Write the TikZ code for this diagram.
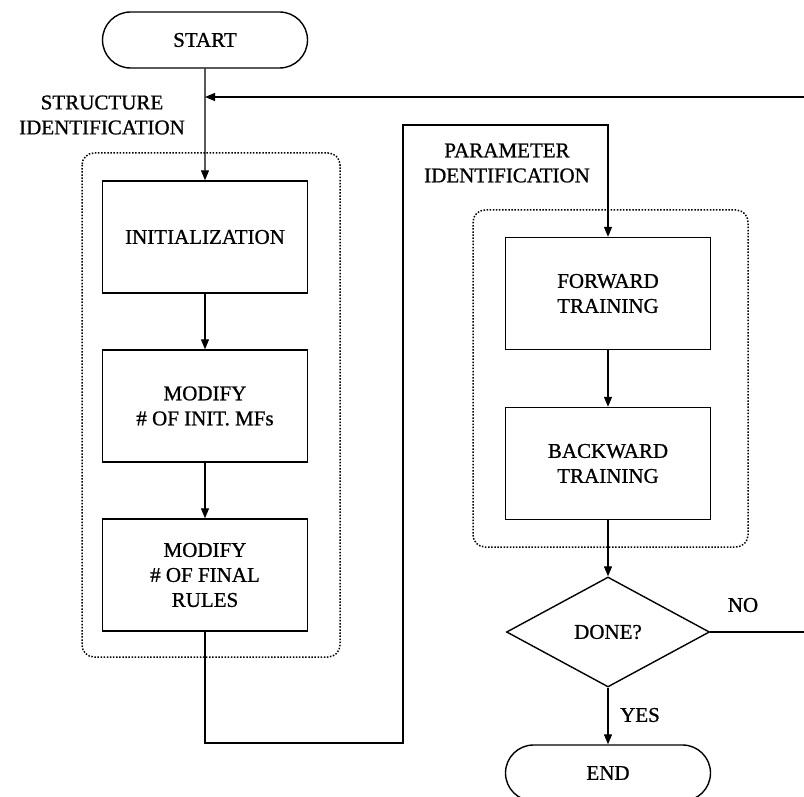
\documentclass[tikz,border=0pt]{standalone}
\usepackage{fontspec}
\setmainfont{Liberation Serif}
\newfontfamily\chartfont{Liberation Serif}[FakeBold=0.9]
\usetikzlibrary{shapes.misc,shapes.geometric,arrows.meta}
\begin{document}
\begin{tikzpicture}[x=1pt,y=-1pt,
  txt/.style={font=\chartfont\fontsize{21}{25}\selectfont, align=center, inner sep=0pt},
  stepbox/.style={txt, draw, line width=1.4pt, minimum width=205pt, minimum height=112pt},
  terminal/.style={txt, draw, line width=1.4pt, rounded rectangle, minimum width=205pt, minimum height=56pt},
  decision/.style={txt, draw, line width=1.4pt, diamond, aspect=1.85, minimum width=203pt, minimum height=110pt},
  groupbox/.style={draw, line width=1.5pt, dash pattern=on 1.5pt off 1.6pt, rounded corners=12pt},
  conn/.style={draw, line width=1.2pt},
  arr/.style={conn, -{Triangle[length=10pt,width=8pt]}}]
\useasboundingbox (0,0) rectangle (804,797);
\clip (0,0) rectangle (804,797);

% groups
\draw[groupbox] (82,153) rectangle (340,657);
\draw[groupbox] (473,210) rectangle (748,547);

% structure identification column
\node[terminal] (start) at (205,40) {START};
\node[stepbox] (init) at (205,237) {INITIALIZATION};
\node[stepbox] (mfs) at (205,406) {MODIFY\\\# OF INIT. MFs};
\node[stepbox] (rules) at (205,575) {MODIFY\\\# OF FINAL\\RULES};

% parameter identification column
\node[stepbox] (fwd) at (608,293.5) {FORWARD\\TRAINING};
\node[stepbox] (bwd) at (608,463.5) {BACKWARD\\TRAINING};
\node[decision] (done) at (608,632) {DONE?};
\node[terminal] (end) at (608,773) {END};

% labels
\node[txt] (lstruct) at (102,115) {STRUCTURE\\IDENTIFICATION};
\node[txt] (lparam) at (507,163) {PARAMETER\\IDENTIFICATION};
\node[txt] (lno) at (743,605) {NO};
\node[txt] (lyes) at (640,715) {YES};

% route points
\coordinate (join) at (205,97);
\coordinate (rt) at (812,632);
\coordinate (b1) at (205,743);
\coordinate (b2) at (403,125);

% connectors
\draw[arr] (start) -- (init);
\draw[arr] (init) -- (mfs);
\draw[arr] (mfs) -- (rules);
\draw[arr] (rules.south) -- (b1) -| (b2) -| (fwd.north);
\draw[arr] (fwd) -- (bwd);
\draw[arr] (bwd) -- (done);
\draw[arr] (done) -- (end);
\draw[arr] (done.east) -- (rt) |- (join);
\end{tikzpicture}
\end{document}
